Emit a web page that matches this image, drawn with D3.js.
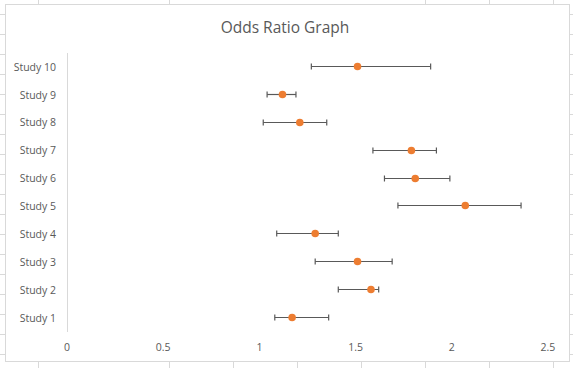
<!DOCTYPE html>
<html>
<head>
<meta charset="utf-8">
<script src="https://cdn.jsdelivr.net/npm/d3@7"></script>
<style>
  html, body { margin: 0; padding: 0; background: #fff; }
  svg { display: block; font-family: "Open Sans", "Noto Sans", sans-serif; }
</style>
</head>
<body>
<svg id="chart" width="573" height="368"></svg>
<script>
const studies = ["Study 1","Study 2","Study 3","Study 4","Study 5","Study 6","Study 7","Study 8","Study 9","Study 10"];
const oddsRatio = [1.17, 1.58, 1.51, 1.29, 2.07, 1.81, 1.79, 1.21, 1.12, 1.51];
const lowerCI   = [1.08, 1.41, 1.29, 1.09, 1.72, 1.65, 1.59, 1.02, 1.04, 1.27];
const upperCI   = [1.36, 1.62, 1.69, 1.41, 2.36, 1.99, 1.92, 1.35, 1.19, 1.89];
const xTicks = [0, 0.5, 1, 1.5, 2, 2.5];
const title = "Odds Ratio Graph";

const svg = d3.select("#chart");
const W = 573, H = 368;

// spreadsheet background gridlines
const gridColor = "#d9d9d9";
const colLinesTop = [38, 169, 425, 489, 553];
const colLinesBottom = [38, 169, 233, 297, 361, 425, 489, 553];
const rowLines = d3.range(14, 368, 20);
svg.selectAll(".colT").data(colLinesTop).enter().append("line")
  .attr("x1", d => d + 0.5).attr("x2", d => d + 0.5).attr("y1", 0).attr("y2", 4)
  .attr("stroke", gridColor);
svg.selectAll(".colB").data(colLinesBottom).enter().append("line")
  .attr("x1", d => d + 0.5).attr("x2", d => d + 0.5).attr("y1", 362).attr("y2", H)
  .attr("stroke", gridColor);
svg.selectAll(".rowL").data(rowLines).enter().append("line")
  .attr("x1", 0).attr("x2", 5).attr("y1", d => d + 0.5).attr("y2", d => d + 0.5)
  .attr("stroke", gridColor);
svg.selectAll(".rowR").data(rowLines).enter().append("line")
  .attr("x1", 570).attr("x2", W).attr("y1", d => d + 0.5).attr("y2", d => d + 0.5)
  .attr("stroke", gridColor);

// chart area
svg.append("rect").attr("x", 5.5).attr("y", 4.5).attr("width", 564).attr("height", 357)
  .attr("fill", "#fff").attr("stroke", gridColor);

svg.append("text").attr("x", 285).attr("y", 33).attr("text-anchor", "middle")
  .attr("font-size", 15.5).attr("fill", "#595959").text(title);

const x = d3.scaleLinear().domain([0, 2.5]).range([67, 548]);
const y = d3.scaleBand().domain(studies.slice().reverse()).range([53, 332]);

// y axis line
svg.append("line").attr("x1", x(0) + 0.5).attr("x2", x(0) + 0.5)
  .attr("y1", 53).attr("y2", 332).attr("stroke", "#d9d9d9");

// y labels
svg.selectAll(".ylab").data(studies).enter().append("text")
  .attr("x", 56).attr("y", d => y(d) + y.bandwidth() / 2)
  .attr("dy", "0.35em").attr("text-anchor", "end")
  .attr("font-size", 10.5).attr("fill", "#595959").text(d => d);

// x labels
svg.selectAll(".xlab").data(xTicks).enter().append("text")
  .attr("x", d => x(d)).attr("y", 351)
  .attr("text-anchor", "middle").attr("font-size", 10.5).attr("fill", "#595959")
  .text(d => d);

const data = studies.map((s, i) => ({ s, or: oddsRatio[i], lo: lowerCI[i], hi: upperCI[i] }));
const barColor = "#595959";
const g = svg.selectAll(".row").data(data).enter().append("g")
  .attr("transform", d => `translate(0,${Math.round(y(d.s) + y.bandwidth() / 2) - 0.5})`);
g.append("line").attr("x1", d => x(d.lo)).attr("x2", d => x(d.hi))
  .attr("y1", 0).attr("y2", 0).attr("stroke", barColor).attr("stroke-width", 1.2);
g.append("line").attr("x1", d => x(d.lo)).attr("x2", d => x(d.lo))
  .attr("y1", -3).attr("y2", 3).attr("stroke", barColor).attr("stroke-width", 1.2);
g.append("line").attr("x1", d => x(d.hi)).attr("x2", d => x(d.hi))
  .attr("y1", -3).attr("y2", 3).attr("stroke", barColor).attr("stroke-width", 1.2);
g.append("circle").attr("cx", d => x(d.or)).attr("cy", 0).attr("r", 3.8)
  .attr("fill", "#ED7D31");
</script>
</body>
</html>
